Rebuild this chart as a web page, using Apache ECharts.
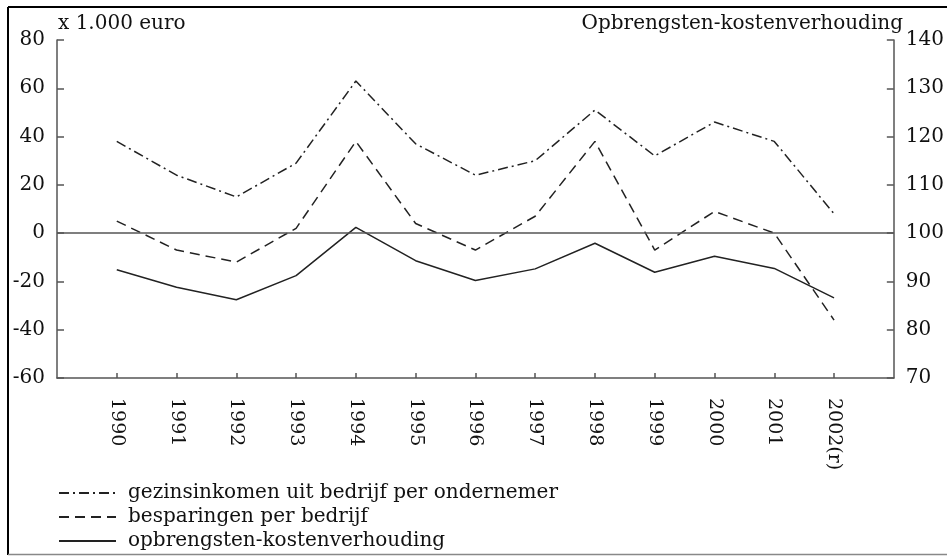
<!DOCTYPE html>
<html>
<head>
<meta charset="utf-8">
<script src="https://cdn.jsdelivr.net/npm/echarts@6/dist/echarts.min.js"></script>
<style>
html,body{margin:0;padding:0;background:#fff;}
#chart{width:947px;height:556px;}
</style>
</head>
<body>
<div id="chart"></div>
<script>
// ---- data ----
const years = ['1990','1991','1992','1993','1994','1995','1996','1997','1998','1999','2000','2001','2002(r)'];
const gezinsinkomen = [38, 24, 15, 29, 63, 37, 24, 30, 51, 32, 46, 38, 8];
const besparingen = [5, -7, -12, 2, 38, 4, -7, 7, 38, -7, 9, 0, -36];
const opbrengsten = [92.4, 88.8, 86.2, 91.2, 101.2, 94.3, 90.2, 92.6, 97.9, 91.9, 95.2, 92.7, 86.6];
const seriesNames = ['gezinsinkomen uit bedrijf per ondernemer', 'besparingen per bedrijf', 'opbrengsten-kostenverhouding'];
const leftAxis = {min: -60, max: 80, interval: 20};
const rightAxis = {min: 70, max: 140, interval: 10};
const leftTitle = 'x 1.000 euro';
const rightTitle = 'Opbrengsten-kostenverhouding';

// padded categories (axis runs one step beyond first and last year)
const cats = [''].concat(years, ['']);
const pad = arr => [null].concat(arr, [null]);

const FONT = 'DejaVu Serif';
const TXT = '#111';
const AX = '#555';

const chart = echarts.init(document.getElementById('chart'), null, {renderer: 'canvas'});
const lineCol = '#222';

chart.setOption({
  backgroundColor: '#fff',
  animation: false,
  textStyle: {fontFamily: FONT, color: TXT},
  grid: {left: 57, right: 44, top: 40, bottom: 178, containLabel: false},
  legend: {
    orient: 'vertical',
    left: 58,
    top: 483,
    height: 120,
    itemWidth: 57,
    itemHeight: 16,
    itemGap: 4,
    padding: 0,
    data: seriesNames,
    itemStyle: {opacity: 0},
    textStyle: {fontFamily: FONT, fontSize: 20, color: TXT, lineHeight: 16, padding: [0, 0, 0, 7]}
  },
  xAxis: {
    type: 'category',
    data: cats,
    boundaryGap: false,
    axisLine: {show: true, onZero: false, lineStyle: {color: AX, width: 1.5}},
    axisTick: {show: true, inside: true, length: 5, lineStyle: {color: AX, width: 1.5},
      interval: (i, v) => v !== ''},
    axisLabel: {show: true, rotate: -90, margin: 20, fontFamily: FONT, fontSize: 19, color: TXT, interval: 0},
    splitLine: {show: false}
  },
  yAxis: [
    {
      type: 'value', position: 'left',
      min: leftAxis.min, max: leftAxis.max, interval: leftAxis.interval,
      axisLine: {show: true, lineStyle: {color: AX, width: 1.5}},
      axisTick: {show: true, inside: true, length: 7, lineStyle: {color: AX, width: 1.5}},
      axisLabel: {margin: 12, fontFamily: FONT, fontSize: 20, color: TXT},
      splitLine: {show: false}
    },
    {
      type: 'value', position: 'right',
      min: rightAxis.min, max: rightAxis.max, interval: rightAxis.interval,
      axisLine: {show: true, lineStyle: {color: AX, width: 1.5}},
      axisTick: {show: true, inside: true, length: 7, lineStyle: {color: AX, width: 1.5}},
      axisLabel: {margin: 12, fontFamily: FONT, fontSize: 20, color: TXT},
      splitLine: {show: false}
    }
  ],
  series: [
    {
      name: seriesNames[0], type: 'line', yAxisIndex: 0, data: pad(gezinsinkomen),
      symbol: 'none', connectNulls: false,
      lineStyle: {color: lineCol, width: 1.5, type: [10, 4, 2, 4]},
      itemStyle: {color: lineCol}
    },
    {
      name: seriesNames[1], type: 'line', yAxisIndex: 0, data: pad(besparingen),
      symbol: 'none',
      lineStyle: {color: lineCol, width: 1.5, type: [10, 6]},
      itemStyle: {color: lineCol},
      markLine: {
        silent: true, symbol: 'none', label: {show: false},
        lineStyle: {color: AX, width: 1.5, type: 'solid'},
        data: [{yAxis: 0}]
      }
    },
    {
      name: seriesNames[2], type: 'line', yAxisIndex: 1, data: pad(opbrengsten),
      symbol: 'none',
      lineStyle: {color: lineCol, width: 1.5, type: 'solid'},
      itemStyle: {color: lineCol}
    }
  ],
  graphic: [
    {type: 'line', shape: {x1: 8, y1: 7, x2: 8, y2: 555}, style: {stroke: '#000', lineWidth: 2}},
    {type: 'line', shape: {x1: 8, y1: 7, x2: 947, y2: 7}, style: {stroke: '#000', lineWidth: 2}},
    {type: 'line', shape: {x1: 8, y1: 554.5, x2: 947, y2: 554.5}, style: {stroke: '#888', lineWidth: 1.5}},
    {type: 'text', left: 58, top: 14, style: {text: leftTitle, fontFamily: FONT, fontSize: 20, fill: TXT}},
    {type: 'text', right: 44, top: 14, style: {text: rightTitle, fontFamily: FONT, fontSize: 20, fill: TXT}}
  ]
});
</script>
</body>
</html>
